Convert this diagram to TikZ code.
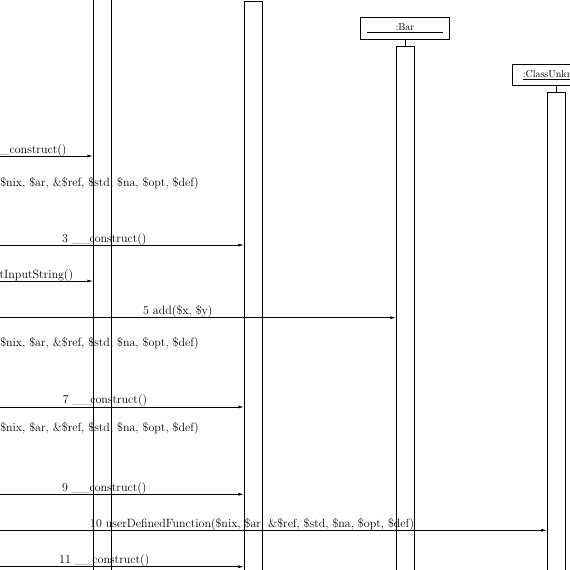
\documentclass[tikz,border=0pt]{standalone}
\usetikzlibrary{arrows.meta}
\begin{document}
\begin{tikzpicture}[x=1pt,y=-1pt,
  lbl/.style={font=\fontsize{12}{14}\selectfont, inner sep=0pt},
  bar/.style={draw, line width=0.9pt, minimum width=18pt, inner sep=0pt, anchor=north west},
  head/.style={draw, line width=0.9pt, font=\fontsize{10}{12}\selectfont, inner sep=0pt},
  msg/.style={line width=0.9pt, -{Latex[length=6pt,width=3pt]}}]
\useasboundingbox (0,0) rectangle (570,570);
\clip (0,0) rectangle (570,570);
% activation bars
\node[bar, minimum height=600pt] (bar1) at (93.3,-10) {};
\node[bar, minimum height=590pt] (bar2) at (244.3,1) {};
\node[bar, minimum height=560pt] (bar3) at (396.3,46.3) {};
\node[bar, minimum height=500pt] (bar4) at (547.3,92.3) {};
% heads
\node[head, minimum width=88.6pt, minimum height=22pt] (hbar) at (405,28.3) {\underline{\makebox[76pt]{:Bar}}};
\node[head, minimum width=88pt, minimum height=21.4pt] (hcu) at (556.3,75) {\underline{:ClassUnknown}};
\draw[line width=0.9pt] (hbar.south) -- (hbar.south |- bar3.north);
\draw[line width=0.9pt] (hcu.south) -- (hcu.south |- bar4.north);
% messages
\coordinate (m2) at (0,156);
\draw[msg] (m2) -- (m2 -| bar1.west);
\node[lbl, anchor=base east] (l2) at (66.7,153) {\_\_construct()};
\node[lbl, anchor=base east] (l2b) at (199,186) {\$nix, \$ar, \&\$ref, \$std, \$na, \$opt, \$def)};
\coordinate (m3) at (0,245);
\draw[msg] (m3) -- (m3 -| bar2.west);
\node[lbl, anchor=base west] (l3) at (62,242) {3 \_\_construct()};
\coordinate (m4) at (0,281);
\draw[msg] (m4) -- (m4 -| bar1.west);
\node[lbl, anchor=base east] (l4) at (73.3,278) {etInputString()};
\coordinate (m5) at (0,317.7);
\draw[msg] (m5) -- (m5 -| bar3.west);
\node[lbl, anchor=base west] (l5) at (143,314) {5 add(\$x, \$y)};
\node[lbl, anchor=base east] (l6) at (199,346) {\$nix, \$ar, \&\$ref, \$std, \$na, \$opt, \$def)};
\coordinate (m7) at (0,407);
\draw[msg] (m7) -- (m7 -| bar2.west);
\node[lbl, anchor=base west] (l7) at (62.7,403) {7 \_\_construct()};
\node[lbl, anchor=base east] (l8) at (199,431) {\$nix, \$ar, \&\$ref, \$std, \$na, \$opt, \$def)};
\coordinate (m9) at (0,494.3);
\draw[msg] (m9) -- (m9 -| bar2.west);
\node[lbl, anchor=base west] (l9) at (62,491.5) {9 \_\_construct()};
\coordinate (m10) at (0,530.3);
\draw[msg] (m10) -- (m10 -| bar4.west);
\node[lbl, anchor=base west] (l10) at (90,527) {10 userDefinedFunction(\$nix, \$ar, \&\$ref, \$std, \$na, \$opt, \$def)};
\coordinate (m11) at (0,566.7);
\draw[msg] (m11) -- (m11 -| bar2.west);
\node[lbl, anchor=base west] (l11) at (59,563.5) {11 \_\_construct()};
\end{tikzpicture}
\end{document}
